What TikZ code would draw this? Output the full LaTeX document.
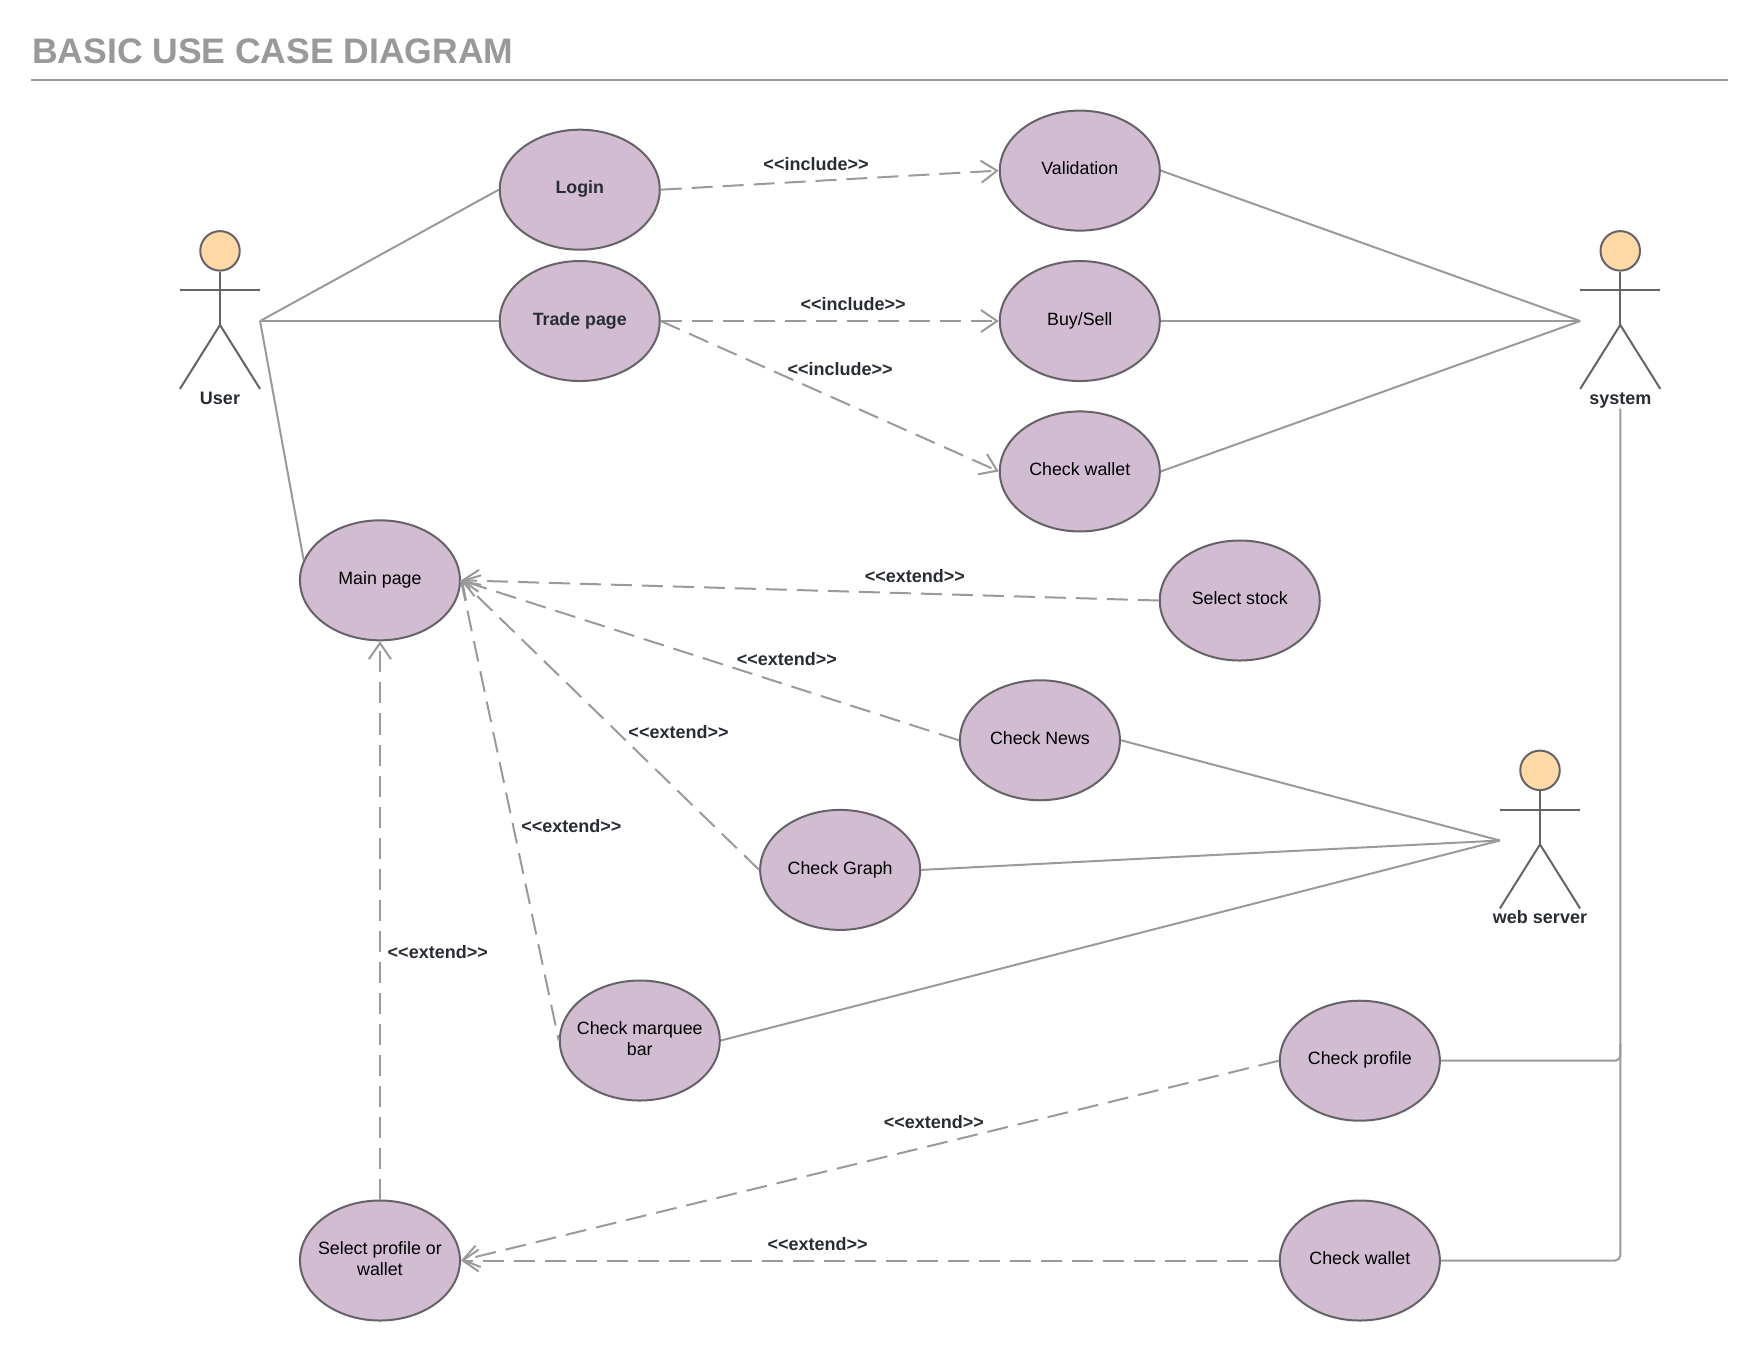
\documentclass[tikz,border=0pt]{standalone}
\usepackage{fontspec}
\setmainfont[Ligatures=NoCommon]{Liberation Sans}
\usetikzlibrary{arrows.meta,shapes.geometric}
\definecolor{ucfill}{HTML}{D1BCD2}
\definecolor{ucline}{HTML}{666268}
\definecolor{conn}{HTML}{9A9A9A}
\definecolor{headfill}{HTML}{FFD9A6}
\definecolor{txt}{HTML}{282C33}
\definecolor{titlecol}{HTML}{999999}
\newcommand{\up}[1]{\makebox[0pt]{\raisebox{6.5pt}{\begin{tabular}{@{}c@{}}#1\end{tabular}}}}
\newcommand{\ang}[1]{<{}<#1>{}>}
\tikzset{
  usecase/.style={ellipse,draw=ucline,fill=ucfill,line width=2pt,minimum width=160pt,minimum height=120pt,inner sep=0pt,align=center,text=black,font=\fontsize{17.8}{21.5}\selectfont},
  usecaseb/.style={usecase,text=txt,font=\fontsize{17.8}{21.5}\selectfont\bfseries},
  assoc/.style={draw=conn,line width=2pt},
  depline/.style={draw=conn,line width=2pt,dash pattern=on 21pt off 10pt},
  dep/.style={depline,-{Straight Barb[length=16pt,width=22pt,line width=2pt]}},
  lbl/.style={text=txt,font=\fontsize{18}{21}\selectfont\bfseries,inner sep=0pt},
  actorlbl/.style={text=txt,font=\fontsize{18}{21}\selectfont\bfseries,inner sep=0pt,anchor=base},
  limb/.style={draw=ucline,line width=2pt},
  headshape/.style={circle,draw=ucline,fill=headfill,line width=2pt,minimum size=39.5pt,inner sep=0pt},
}
\newcommand{\stick}[4]{% name, cx, arms y, label
  \node[headshape] (#1h) at (#2,#3-35) {};
  \coordinate (#1l) at (#2-35.7,#3);
  \coordinate (#1r) at (#2+35.7,#3);
  \coordinate (#1c) at (#2,#3+31);
  \coordinate (#1fl) at (#2-35.7,#3+88);
  \coordinate (#1fr) at (#2+35.7,#3+88);
  \coordinate (#1pl) at (#2-35.7,#3+27.5);
  \coordinate (#1pr) at (#2+35.7,#3+27.5);
  \draw[limb] (#1h) -- (#1c);
  \draw[limb] (#1l) -- (#1r);
  \draw[limb] (#1fl) -- (#1c) -- (#1fr);
  \node[actorlbl] (#1t) at (#2,#3+101.8) {#4};
}
\begin{document}
\begin{tikzpicture}[x=1.1224pt,y=-1.1224pt]
\useasboundingbox (0,0) rectangle (1568,1211.7);
\node[anchor=west,inner sep=0pt,text=titlecol,font=\fontsize{35.5}{40}\selectfont\bfseries] (title) at (28.5,45.5) {BASIC USE CASE DIAGRAM};
\coordinate (ruleL) at (28,71);
\coordinate (ruleR) at (1539.5,71);
\draw[draw=conn,line width=2pt] (ruleL) -- (ruleR);

\stick{user}{196}{258.5}{User}
\stick{sys}{1443.5}{258.5}{system}
\stick{web}{1372}{721.3}{web server}

\node[usecaseb] (login) at (516.5,169) {\up{Login}};
\node[usecaseb] (trade) at (516.5,286) {\up{Trade page}};
\node[usecase] (valid) at (962,152) {\up{Validation}};
\node[usecase] (buy) at (962,286) {\up{Buy/Sell}};
\node[usecase] (wallet) at (962,420) {\up{Check wallet}};
\node[usecase] (main) at (338.5,517) {\up{Main page}};
\node[usecase] (stock) at (1104.5,535) {\up{Select stock}};
\node[usecase] (news) at (926.5,659.5) {\up{Check News}};
\node[usecase] (graph) at (748.5,775) {\up{Check Graph}};
\node[usecase] (marq) at (570,927) {\up{Check marquee\\bar}};
\node[usecase] (profile) at (1211.5,945) {\up{Check profile}};
\node[usecase] (wallet2) at (1211.5,1123) {\up{Check wallet}};
\node[usecase] (select) at (338.5,1123) {\up{Select profile or\\wallet}};

\draw[assoc] (userpr) -- (login.west);
\draw[assoc] (userpr) -- (trade.west);
\draw[assoc] (userpr) -- (main.165);
\draw[assoc] (valid.east) -- (syspl);
\draw[assoc] (buy.east) -- (syspl);
\draw[assoc] (wallet.east) -- (syspl);
\draw[assoc] (news.east) -- (webpl);
\draw[assoc] (graph.east) -- (webpl);
\draw[assoc] (marq.east) -- (webpl);
\coordinate (sysb) at (1443.5,364);
\draw[assoc,rounded corners=5pt] (sysb) -- (sysb |- wallet2.east) -- (wallet2.east);
\draw[assoc,rounded corners=5pt] (profile.east) -- (sysb |- profile.east) -- (sysb |- 0,930);

\draw[dep] (login.east) -- (valid.west);
\draw[dep] (trade.east) -- (buy.west);
\draw[dep] (trade.east) -- (wallet.west);
\draw[dep] (stock.west) -- (main.east);
\draw[dep] (news.west) -- (main.east);
\draw[dep] (graph.west) -- (main.east);
\draw[depline] (main.east) -- (marq.west);
\draw[dep] (select.north) -- (main.south);
\draw[dep] (profile.west) -- (select.east);
\draw[dep] (wallet2.west) -- (select.east);

\node[lbl] (l1) at (727,146) {\ang{include}};
\node[lbl] (l2) at (760,271) {\ang{include}};
\node[lbl] (l3) at (748.5,329) {\ang{include}};
\node[lbl] (l4) at (815,513.5) {\ang{extend}};
\node[lbl] (l5) at (701,587) {\ang{extend}};
\node[lbl] (l6) at (604.5,652) {\ang{extend}};
\node[lbl] (l7) at (509,735.5) {\ang{extend}};
\node[lbl] (l8) at (390,848) {\ang{extend}};
\node[lbl] (l9) at (832,1000) {\ang{extend}};
\node[lbl] (l10) at (728.5,1108) {\ang{extend}};
\end{tikzpicture}
\end{document}
